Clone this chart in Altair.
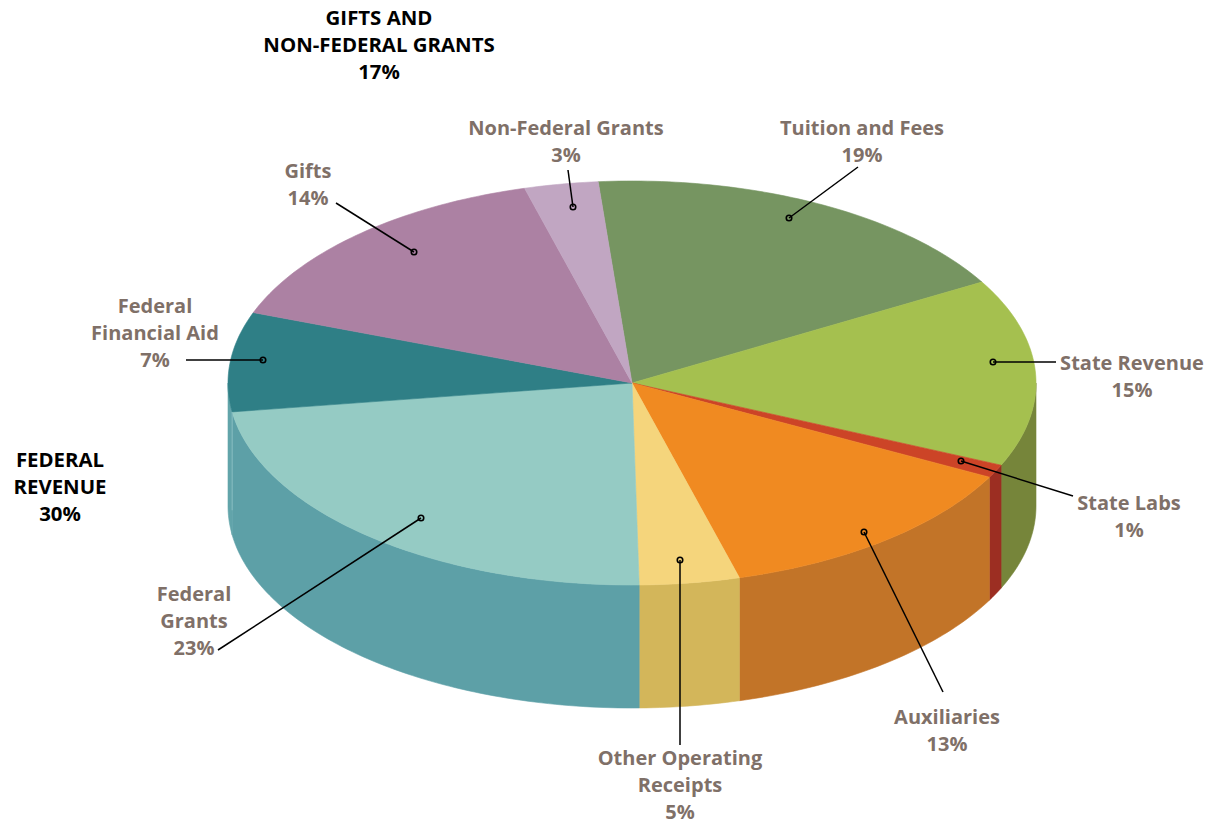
import math
import altair as alt
import pandas as pd

# Slice data, clockwise from the top of the pie. Shares are arc shares.
slices = ["Tuition and Fees", "State Revenue", "State Labs", "Auxiliaries",
          "Other Operating Receipts", "Federal Grants", "Federal Financial Aid",
          "Gifts", "Non-Federal Grants"]
arc_shares = [18.0, 15.0, 1.05, 13.0, 4.0, 23.0, 7.95, 15.05, 2.95]
top_colors = ["#769561", "#a5c04f", "#cc4427", "#f08a21", "#f5d57c",
              "#95cbc4", "#2f7f86", "#ac81a3", "#c1a6c2"]
side_colors = ["#5f7a50", "#76853a", "#9c2e22", "#c27428", "#d3b65a",
               "#5da0a7", "#62a4aa", "#8a6783", "#9a85a0"]
start_angle = -4.8

# Pie layout on the 1220x820 page
cx, cy, rx, ry, depth = 632.0, 383.0, 404.0, 202.0, 123.0

# Text labels (anchored on their first line)
label_text = ["GIFTS AND\nNON-FEDERAL GRANTS\n17%", "FEDERAL\nREVENUE\n30%",
              "Non-Federal Grants\n3%", "Tuition and Fees\n19%", "Gifts\n14%",
              "Federal\nFinancial Aid\n7%", "State Revenue\n15%", "State Labs\n1%",
              "Auxiliaries\n13%", "Other Operating\nReceipts\n5%", "Federal\nGrants\n23%"]
label_x = [379, 60, 566, 862, 308, 155, 1132, 1129, 947, 680, 194]
label_y = [19, 461, 129, 129, 172, 307, 364, 504, 718, 759, 595]
label_color = ["#000000", "#000000"] + ["#7f7068"] * 9
label_size = [20.4, 20.4] + [20] * 9

# Leader lines: dot end, then text end
leader_x = [789, 993, 961, 864, 680, 421, 263, 414, 573]
leader_y = [218, 362, 461, 532, 560, 518, 360, 252, 207]
leader_x2 = [858, 1056, 1073, 943, 680, 218, 186, 336, 568]
leader_y2 = [167, 362, 496, 692, 745, 650, 360, 203, 170]


def rim(t, drop=0.0):
    a = math.radians(t)
    return [cx + rx * math.sin(a), cy - ry * math.cos(a) + drop]


def arc(t0, t1):
    n = max(2, int(abs(t1 - t0)) + 2)
    return [t0 + (t1 - t0) * i / (n - 1) for i in range(n)]


def feature(name, fill, ring):
    return {"type": "Feature", "properties": {"name": name, "fill": fill},
            "geometry": {"type": "Polygon", "coordinates": [ring + [ring[0]]]}}


side_features, top_features = [], []
t = start_angle
for name, share, top, side in zip(slices, arc_shares, top_colors, side_colors):
    t1 = t + share * 3.6
    a0, a1 = max(t, 90.0), min(t1, 270.0)
    if a1 > a0:
        ts = arc(a0, a1)
        side_features.append(feature(name, side, [rim(v) for v in ts] +
                                     [rim(v, depth) for v in reversed(ts)]))
    top_features.append(feature(name, top, [[cx, cy]] + [rim(v) for v in arc(t, t1)]))
    t = t1

fg_end = start_angle + sum(arc_shares[:6]) * 3.6
seam_df = pd.DataFrame([{"x": rim(fg_end)[0], "y": rim(fg_end)[1],
                         "x2": rim(fg_end, depth * 0.8)[0], "y2": rim(fg_end, depth * 0.8)[1]}])

proj = alt.Projection(type="identity", scale=1, translate=[-8, -8])


def shapes(features):
    return alt.Chart(alt.InlineData(values={"type": "FeatureCollection", "features": features},
                                    format=alt.DataFormat(property="features", type="json"))
                     ).mark_geoshape(strokeWidth=0.6).encode(
        fill=alt.Fill("properties.fill:N", scale=None),
        stroke=alt.Stroke("properties.fill:N", scale=None),
    )


leaders = pd.DataFrame({"x": leader_x, "y": leader_y, "x2": leader_x2, "y2": leader_y2})
labels = pd.DataFrame({"x": label_x, "y": label_y, "t": label_text, "c": label_color, "s": label_size})

rules = alt.Chart(leaders).mark_rule(color="#000000", strokeWidth=1.5).encode(
    longitude="x:Q", latitude="y:Q", longitude2="x2:Q", latitude2="y2:Q")
seam = alt.Chart(seam_df).mark_rule(color="#86bcbf", strokeWidth=1).encode(
    longitude="x:Q", latitude="y:Q", longitude2="x2:Q", latitude2="y2:Q")
dots = alt.Chart(leaders).mark_point(filled=False, color="#000000", size=30, strokeWidth=1.6,
                                     opacity=1).encode(longitude="x:Q", latitude="y:Q")
text = alt.Chart(labels).mark_text(font="Open Sans", fontWeight=700, lineHeight=27,
                                   lineBreak="\n", align="center", baseline="middle").encode(
    longitude="x:Q", latitude="y:Q", text="t:N", color=alt.Color("c:N", scale=None),
    size=alt.Size("s:Q", scale=None))

chart = alt.layer(shapes(side_features), shapes(top_features), seam, rules, dots, text,
                  projection=proj).properties(
    width=1204, height=812, padding=0, autosize=alt.AutoSizeParams(type="none"),
    background="#ffffff").configure_view(stroke=None)

chart.save("out.html", embed_options={"renderer": "svg", "actions": False})
